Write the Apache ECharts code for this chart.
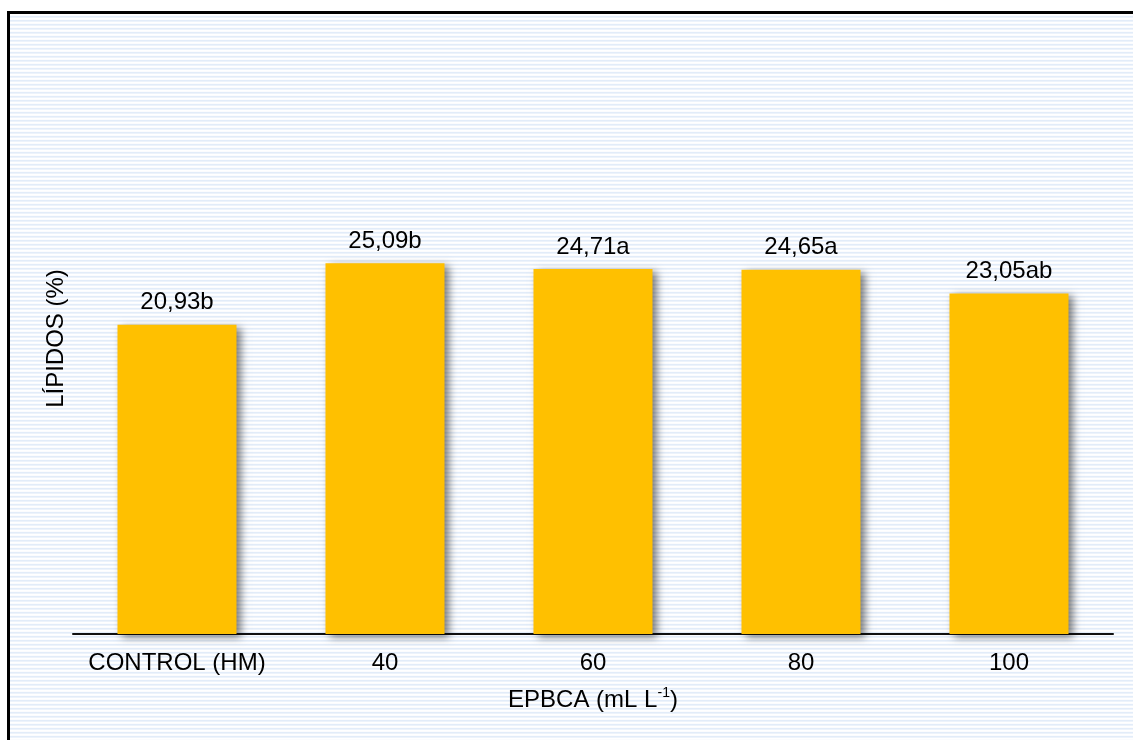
<!DOCTYPE html>
<html>
<head>
<meta charset="utf-8">
<script src="https://cdn.jsdelivr.net/npm/echarts@6/dist/echarts.min.js"></script>
<style>
  html, body { margin: 0; padding: 0; background: #fff; }
  #chart { width: 1133px; height: 740px; }
</style>
</head>
<body>
<div id="chart"></div>
<script>
// Lipid content by EPBCA dose
const categories = ['CONTROL (HM)', '40', '60', '80', '100'];
const lipids = [20.93, 25.09, 24.71, 24.65, 23.05];
const groups = ['b', 'b', 'a', 'a', 'ab'];

// Striped background tile
function stripeTile() {
  const c = document.createElement('canvas');
  c.width = 4; c.height = 4;
  const g = c.getContext('2d');
  const rows = ['#e2ecf9', '#edf3fb', '#ffffff', '#fbfcfe'];
  rows.forEach((col, i) => { g.fillStyle = col; g.fillRect(0, i, 4, 1); });
  return c;
}

const chart = echarts.init(document.getElementById('chart'), null, { renderer: 'canvas' });
const font = 'Liberation Sans, Arial, sans-serif';

chart.setOption({
  backgroundColor: '#ffffff',
  animation: false,
  graphic: [{
    type: 'rect',
    z: -10,
    silent: true,
    shape: { x: 8.5, y: 12.5, width: 1300, height: 900 },
    style: { fill: { image: stripeTile(), repeat: 'repeat' }, stroke: '#000', lineWidth: 3 }
  }],
  grid: { left: 73, right: 20, top: 43, bottom: 106 },
  xAxis: {
    type: 'category',
    data: categories,
    name: '{t|EPBCA (mL L}{s|-1}{t|)}',
    nameLocation: 'middle',
    nameGap: 52,
    nameTextStyle: {
      rich: {
        t: { fontFamily: font, fontSize: 24, color: '#000', verticalAlign: 'bottom', lineHeight: 26 },
        s: { fontFamily: font, fontSize: 14, color: '#000', verticalAlign: 'top', padding: [0, 0, 10, 0], lineHeight: 26 }
      }
    },
    axisLine: { show: true, lineStyle: { color: '#111', width: 2 } },
    axisTick: { show: false },
    axisLabel: { interval: 0, fontFamily: font, fontSize: 24, color: '#000', margin: 17 }
  },
  yAxis: {
    type: 'value',
    min: 0,
    max: 40,
    interval: 10,
    name: 'LÍPIDOS (%)',
    nameLocation: 'middle',
    nameGap: 5,
    nameTextStyle: { fontFamily: font, fontSize: 24, color: '#000' },
    axisLine: { show: false },
    axisTick: { show: false },
    axisLabel: { show: false },
    splitLine: { show: false }
  },
  series: [{
    type: 'bar',
    data: lipids,
    barWidth: 119,
    itemStyle: {
      color: '#FFC000',
      shadowColor: 'rgba(0,0,0,0.5)',
      shadowBlur: 8,
      shadowOffsetX: 4,
      shadowOffsetY: 3
    },
    label: {
      show: true,
      position: 'top',
      distance: 10,
      fontFamily: font,
      fontSize: 24,
      color: '#000',
      formatter: p => p.value.toFixed(2).replace('.', ',') + groups[p.dataIndex]
    }
  }]
});
</script>
</body>
</html>
